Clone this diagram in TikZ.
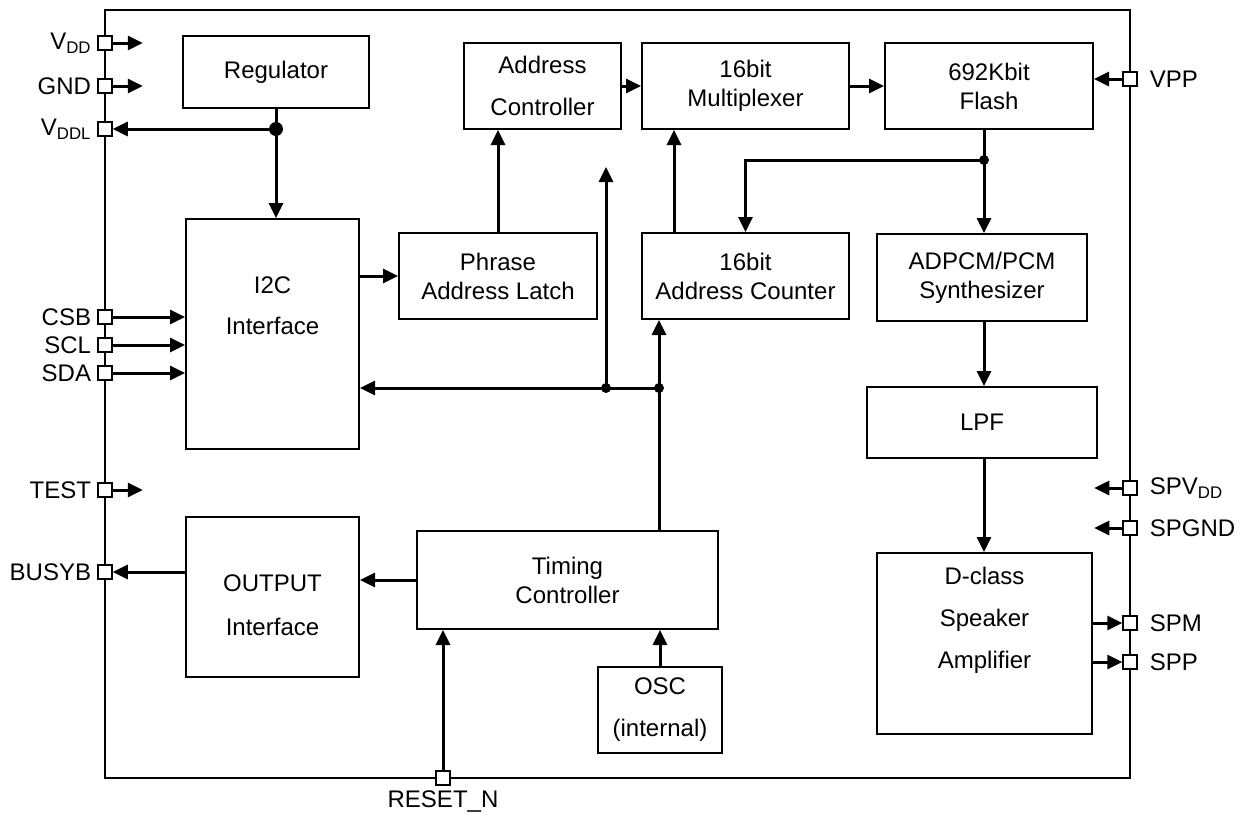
\documentclass[tikz,border=0pt]{standalone}
\usepackage{fontspec}
\setmainfont{Liberation Sans}
\usetikzlibrary{arrows.meta}

\begin{document}
\begin{tikzpicture}[x=1pt,y=-1pt,font=\fontsize{24}{29}\selectfont,
   blk/.style={draw,line width=2pt,align=center,inner sep=0pt},
   pad/.style={draw,fill=white,line width=1.5pt,minimum size=14pt,inner sep=0pt},
   lbl/.style={inner sep=0pt,align=center,label distance=6pt},
   arr/.style={line width=3pt,-{Triangle[length=15pt,width=14pt]}},
   wire/.style={line width=3pt}]
   \useasboundingbox (0,0) rectangle (1243,817);
   % chip outline
   \draw[line width=2pt] (105,10) rectangle (1130,778);

   % blocks
   \node[blk,minimum width=186,minimum height=72] (reg)    at (276,72)     {Regulator};
   \node[blk,minimum width=157,minimum height=86] (actl)   at (542.5,86)   {Address\\[13pt]Controller};
   \node[blk,minimum width=207,minimum height=86] (mux)    at (745.5,86)   {16bit\\Multiplexer};
   \node[blk,minimum width=208,minimum height=86] (flash)  at (989,86)     {692Kbit\\Flash};
   \node[blk,minimum width=173,minimum height=230,
         label={[lbl,yshift=28pt]center:I2C\\[12pt]Interface}] (i2c) at (272.5,334) {};
   \node[blk,minimum width=198,minimum height=86] (latch)  at (498,276)    {Phrase\\Address Latch};
   \node[blk,minimum width=207,minimum height=86] (cnt)    at (745.5,276)  {16bit\\Address Counter};
   \node[blk,minimum width=210,minimum height=87] (adpcm)  at (982,277.5)  {ADPCM/PCM\\Synthesizer};
   \node[blk,minimum width=230,minimum height=71] (lpf)    at (982,422.5)  {LPF};
   \node[blk,minimum width=215,minimum height=181,
         label={[lbl,yshift=23pt]center:D-class\\[13pt]Speaker\\[13pt]Amplifier}] (amp) at (984.5,643.5) {};
   \node[blk,minimum width=173,minimum height=160,
         label={[lbl,yshift=-8pt]center:OUTPUT\\[15pt]Interface}] (outif) at (272.5,597) {};
   \node[blk,minimum width=301,minimum height=98]  (timing) at (567.5,580)  {Timing\\Controller};
   \node[blk,minimum width=124,minimum height=86] (osc)    at (660,710)    {OSC\\[13pt](internal)};

   % junctions
   \coordinate (jreg)   at (276,129);
   \coordinate (jflash) at (984,160);
   \coordinate (jbus1)  at (606,388);
   \coordinate (jbus2)  at (659,388);
   \coordinate (busup)  at (606,167);

   % pads
   \node[pad,label={[lbl]left:V\textsubscript{DD}}]  (vdd)   at (105,43)  {};
   \node[pad,label={[lbl]left:GND}]                  (gnd)   at (105,86)  {};
   \node[pad,label={[lbl]left:V\textsubscript{DDL}}] (vddl)  at (105,129) {};
   \node[pad,label={[lbl]left:CSB}]                  (csb)   at (105,317) {};
   \node[pad,label={[lbl]left:SCL}]                  (scl)   at (105,345) {};
   \node[pad,label={[lbl]left:SDA}]                  (sda)   at (105,373) {};
   \node[pad,label={[lbl]left:TEST}]                 (test)  at (105,490) {};
   \node[pad,label={[lbl]left:BUSYB}]                (busyb) at (105,572) {};
   \node[pad,label={[lbl,label distance=12pt]right:VPP}]                 (vpp)   at (1130,79)  {};
   \node[pad,label={[lbl,label distance=12pt]right:SPV\textsubscript{DD}}] (spvdd) at (1130,488) {};
   \node[pad,label={[lbl,label distance=12pt]right:SPGND}]               (spgnd) at (1130,528) {};
   \node[pad,label={[lbl,label distance=12pt]right:SPM}]                 (spm)   at (1130,623) {};
   \node[pad,label={[lbl,label distance=12pt]right:SPP}]                 (spp)   at (1130,662) {};
   \node[pad,label={[lbl,label distance=5pt]below:RESET\_N}]             (reset) at (443,778)  {};

   % power pins
   \draw[arr] (vdd.east) -- ++(30,0);
   \draw[arr] (gnd.east) -- ++(30,0);
   \draw[arr] (test.east) -- ++(30,0);
   \draw[arr] (spvdd.west) -- ++(-28,0);
   \draw[arr] (spgnd.west) -- ++(-28,0);
   \draw[arr] (reg.south) -- (reg.south |- i2c.north);
   \draw[arr] (jreg) -- (vddl.east);
   \fill (jreg) circle[radius=7pt];

   % serial interface
   \draw[arr] (csb.east) -- (csb.east -| i2c.west);
   \draw[arr] (scl.east) -- (scl.east -| i2c.west);
   \draw[arr] (sda.east) -- (sda.east -| i2c.west);
   \draw[arr] (latch.west -| i2c.east) -- (latch.west);

   % address path
   \draw[arr] (latch.north) -- (latch.north |- actl.south);
   \draw[arr] (actl.east) -- (mux.west);
   \draw[arr] (mux.east) -- (flash.west);
   \draw[arr] ([xshift=-71.5pt]cnt.north) -- ([xshift=-71.5pt]cnt.north |- mux.south);
   \draw[arr] (vpp.west) -- (vpp.west -| flash.east);
   \draw[wire] (jflash |- flash.south) -- (jflash);
   \draw[arr] (jflash) -| (cnt.north);
   \draw[arr] (jflash) -- (jflash |- adpcm.north);
   \fill (jflash) circle[radius=5pt];

   % bus
   \draw[arr] (jbus2) -- (jbus2 -| i2c.east);
   \draw[arr] (jbus1) -- (busup);
   \draw[arr] (timing.north -| jbus2) -- (jbus2 |- cnt.south);
   \fill (jbus1) circle[radius=5pt];
   \fill (jbus2) circle[radius=5pt];

   % audio path
   \draw[arr] (adpcm.south -| jflash) -- (jflash |- lpf.north);
   \draw[arr] (lpf.south -| jflash) -- (jflash |- amp.north);
   \draw[arr] (spm -| amp.east) -- (spm.west);
   \draw[arr] (spp -| amp.east) -- (spp.west);

   % timing
   \draw[arr] (timing.west) -- (outif.east |- timing.west);
   \draw[arr] (outif.west |- busyb) -- (busyb.east);
   \draw[arr] (reset.north) -- (reset.north |- timing.south);
   \draw[arr] (osc.north) -- (osc.north |- timing.south);
\end{tikzpicture}
\end{document}
